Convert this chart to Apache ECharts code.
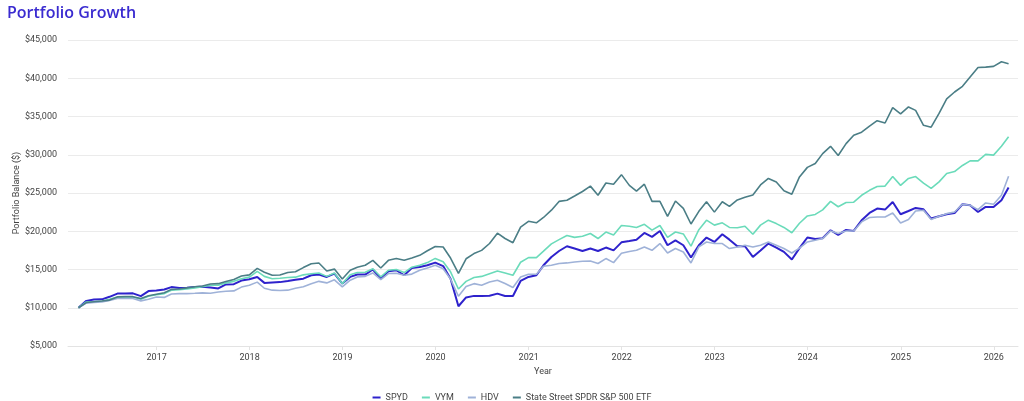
<!DOCTYPE html>
<html>
<head>
<meta charset="utf-8">
<script src="https://cdn.jsdelivr.net/npm/echarts@6/dist/echarts.min.js"></script>
<style>
html,body{margin:0;padding:0;background:#fff;}
#chart{width:1024px;height:401px;}
</style>
</head>
<body>
<div id="chart"></div>
<script>
// Monthly (month-end) values, Feb 2016 .. Feb 2026
const startYear = 2016, startMonth = 2, monthCount = 121;
const seriesNames = ['SPYD', 'VYM', 'HDV', 'State Street SPDR S&P 500 ETF'];
const yTicks = [5000, 45000, 5000]; // min, max, step

const spyd = [
  10000, 10900, 11080, 11100, 11430, 11850, 11850, 11880, 11520, 12180, 12240,
  12380, 12700, 12570, 12620, 12720, 12760, 12650, 12520, 13050, 13080, 13550, 13720,
  14030, 13250, 13300, 13350, 13500, 13650, 13800, 14250, 14340, 14030, 14470, 13160,
  14030, 14340, 14340, 15000, 13800, 14770, 14900, 14250, 15200, 15330, 15550, 15900,
  15450, 13800, 10200, 11350, 11550, 11540, 11580, 11850, 11540, 11540, 13500, 14030,
  14250, 15550, 16640, 17420, 18040, 17740, 17420, 17740, 17420, 17870, 17500, 18550,
  18730, 18900, 19780, 19260, 20040, 18170, 18800, 18170, 16560, 18170, 19180, 18600,
  19610, 18900, 18040, 18040, 16640, 17480, 18390, 17870, 17300, 16300, 17800, 19180,
  19000, 19090, 20130, 19520, 20180, 20040, 21440, 22390, 22970, 22830, 23830, 22220,
  22650, 23050, 22870, 21660, 21960, 22220, 22390, 23530, 23400, 22520, 23180, 23180,
  24050, 25710
];
const vym = [
  10000, 10760, 10800, 10850, 11100, 11400, 11400, 11400, 11100, 11500, 11700,
  11850, 12300, 12350, 12450, 12600, 12750, 12950, 12950, 13250, 13450, 13800, 14000,
  14750, 14100, 13800, 13850, 13950, 14000, 14300, 14450, 14550, 14100, 14550, 13150,
  14300, 14600, 14650, 15100, 14050, 14900, 15000, 14600, 15300, 15550, 15900, 16450,
  16000, 14700, 12450, 13450, 13950, 14100, 14450, 14800, 14550, 14250, 15950, 16550,
  16550, 17400, 18350, 18900, 19450, 19200, 19350, 19700, 19050, 19900, 19500, 20750,
  20650, 20500, 20900, 20150, 20750, 19200, 19900, 19650, 18050, 20200, 21450, 20800,
  21100, 20500, 20450, 20650, 19600, 20800, 21450, 21000, 20500, 19800, 21050, 22000,
  22200, 22800, 23900, 23200, 23750, 23800, 24700, 25350, 25850, 25900, 27150, 26000,
  26900, 27150, 26300, 25600, 26450, 27550, 27800, 28600, 29200, 29200, 30050, 29950,
  31100, 32350
];
const hdv = [
  10000, 10600, 10700, 10750, 10950, 11200, 11200, 11200, 10900, 11100, 11400,
  11350, 11800, 11850, 11850, 11900, 11950, 11900, 12050, 12150, 12200, 12700, 12950,
  13350, 12550, 12300, 12250, 12300, 12550, 12750, 13150, 13450, 13250, 13650, 12720,
  13600, 14030, 14100, 14550, 13690, 14470, 14500, 14250, 14400, 14900, 15200, 15550,
  15100, 13750, 11500, 12770, 13150, 12950, 13370, 13600, 13160, 12640, 14030, 14380,
  14380, 15420, 15550, 15780, 15860, 15990, 16080, 16100, 15780, 16430, 15900, 17120,
  17350, 17510, 17950, 17510, 18390, 17160, 17740, 17290, 15860, 17950, 18600, 18390,
  18390, 17740, 17950, 18170, 17950, 18170, 18600, 18170, 17740, 17160, 17800, 18600,
  18820, 19040, 20040, 19700, 20040, 20040, 21220, 21790, 21870, 21870, 22390, 21090,
  21530, 22650, 22740, 21530, 21960, 22300, 22520, 23530, 23400, 22830, 23700, 23530,
  24700, 27180
];
const sp500 = [
  10000, 10680, 10780, 10880, 11000, 11420, 11450, 11450, 11220, 11560, 11760,
  11960, 12400, 12450, 12600, 12750, 12850, 13100, 13150, 13420, 13700, 14150, 14300,
  15150, 14650, 14250, 14280, 14600, 14700, 15250, 15750, 15850, 14800, 15050, 13750,
  14900, 15300, 15550, 16200, 15200, 16200, 16430, 16200, 16500, 16850, 17450, 18000,
  17950, 16500, 14500, 16400, 17080, 17500, 18400, 19750, 19050, 18500, 20550, 21300,
  21100, 21800, 22750, 23900, 24050, 24600, 25200, 25900, 24700, 26300, 26150, 27400,
  26000, 25250, 26150, 23900, 23900, 21950, 23950, 23000, 20950, 22600, 23850, 22500,
  23850, 23250, 24100, 24450, 24750, 26050, 26900, 26450, 25300, 24850, 27100, 28350,
  28850, 30150, 31100, 29900, 31450, 32550, 32950, 33750, 34450, 34150, 36150, 35350,
  36250, 35800, 33850, 33600, 35400, 37300, 38200, 38950, 40150, 41400, 41450, 41550,
  42150, 41900
];

function pad(n){ return (n < 10 ? '0' : '') + n; }
const dates = [];
for (let k = 0; k < monthCount; k++) {
  const m0 = startMonth - 1 + k;
  const y = startYear + Math.floor(m0 / 12);
  const m = (m0 % 12) + 1;
  const last = new Date(Date.UTC(y, m, 0)).getUTCDate();
  dates.push(y + '-' + pad(m) + '-' + pad(last));
}
function pairs(vals){ return vals.map((v, i) => [dates[i], v]); }

const colors = ['#2e22cc', '#6bdbba', '#9fb2d8', '#4b7e86'];
const widths = [2, 1.6, 1.6, 1.6];
const allVals = [spyd, vym, hdv, sp500];

const chart = echarts.init(document.getElementById('chart'), null, {renderer: 'canvas'});
const font = 'Roboto, "Noto Sans", sans-serif';
chart.setOption({
  backgroundColor: '#ffffff',
  animation: false,
  color: colors,
  title: {
    text: 'Portfolio Growth',
    left: 2, top: 0,
    textStyle: {color: '#3a2bd0', fontSize: 16, fontWeight: 600, fontFamily: '"Open Sans", sans-serif'}
  },
  legend: {
    top: 388,
    left: 'center',
    itemWidth: 8, itemHeight: 2, itemGap: 14,
    icon: 'rect',
    textStyle: {fontSize: 9, color: '#444', fontFamily: font},
    data: seriesNames
  },
  grid: {left: 68, right: 6, top: 40, bottom: 55, containLabel: false},
  xAxis: {
    type: 'time',
    min: '2016-01-19',
    max: '2026-04-06',
    splitNumber: 10,
    minInterval: 365 * 24 * 3600 * 1000,
    maxInterval: 366 * 24 * 3600 * 1000,
    name: 'Year',
    nameLocation: 'middle',
    nameGap: 21,
    nameMoveOverlap: false,
    nameTextStyle: {fontSize: 9, color: '#444', fontFamily: font},
    axisLine: {show: true, lineStyle: {color: '#e3e3e3'}},
    axisTick: {show: true, length: 4, lineStyle: {color: '#e3e3e3'}},
    axisLabel: {fontSize: 9, color: '#444', fontFamily: font, margin: 7,
      showMinLabel: false, showMaxLabel: false,
      formatter: '{yyyy}'},
    splitLine: {show: false}
  },
  yAxis: {
    type: 'value',
    min: yTicks[0], max: yTicks[1], interval: yTicks[2],
    name: 'Portfolio Balance ($)',
    nameLocation: 'middle',
    nameGap: 47,
    nameMoveOverlap: false,
    nameTextStyle: {fontSize: 9, color: '#444', fontFamily: font},
    axisLine: {show: false},
    axisTick: {show: false},
    axisLabel: {fontSize: 9, color: '#444', fontFamily: font, margin: 11,
      formatter: v => '$' + v.toLocaleString('en-US')},
    splitLine: {lineStyle: {color: '#ebebeb', width: 1}}
  },
  series: seriesNames.map((n, i) => ({
    name: n,
    type: 'line',
    data: pairs(allVals[i]),
    symbol: 'none',
    showSymbol: false,
    lineStyle: {width: widths[i], color: colors[i]},
    itemStyle: {color: colors[i]},
    emphasis: {disabled: true}
  }))
});
</script>
</body>
</html>
